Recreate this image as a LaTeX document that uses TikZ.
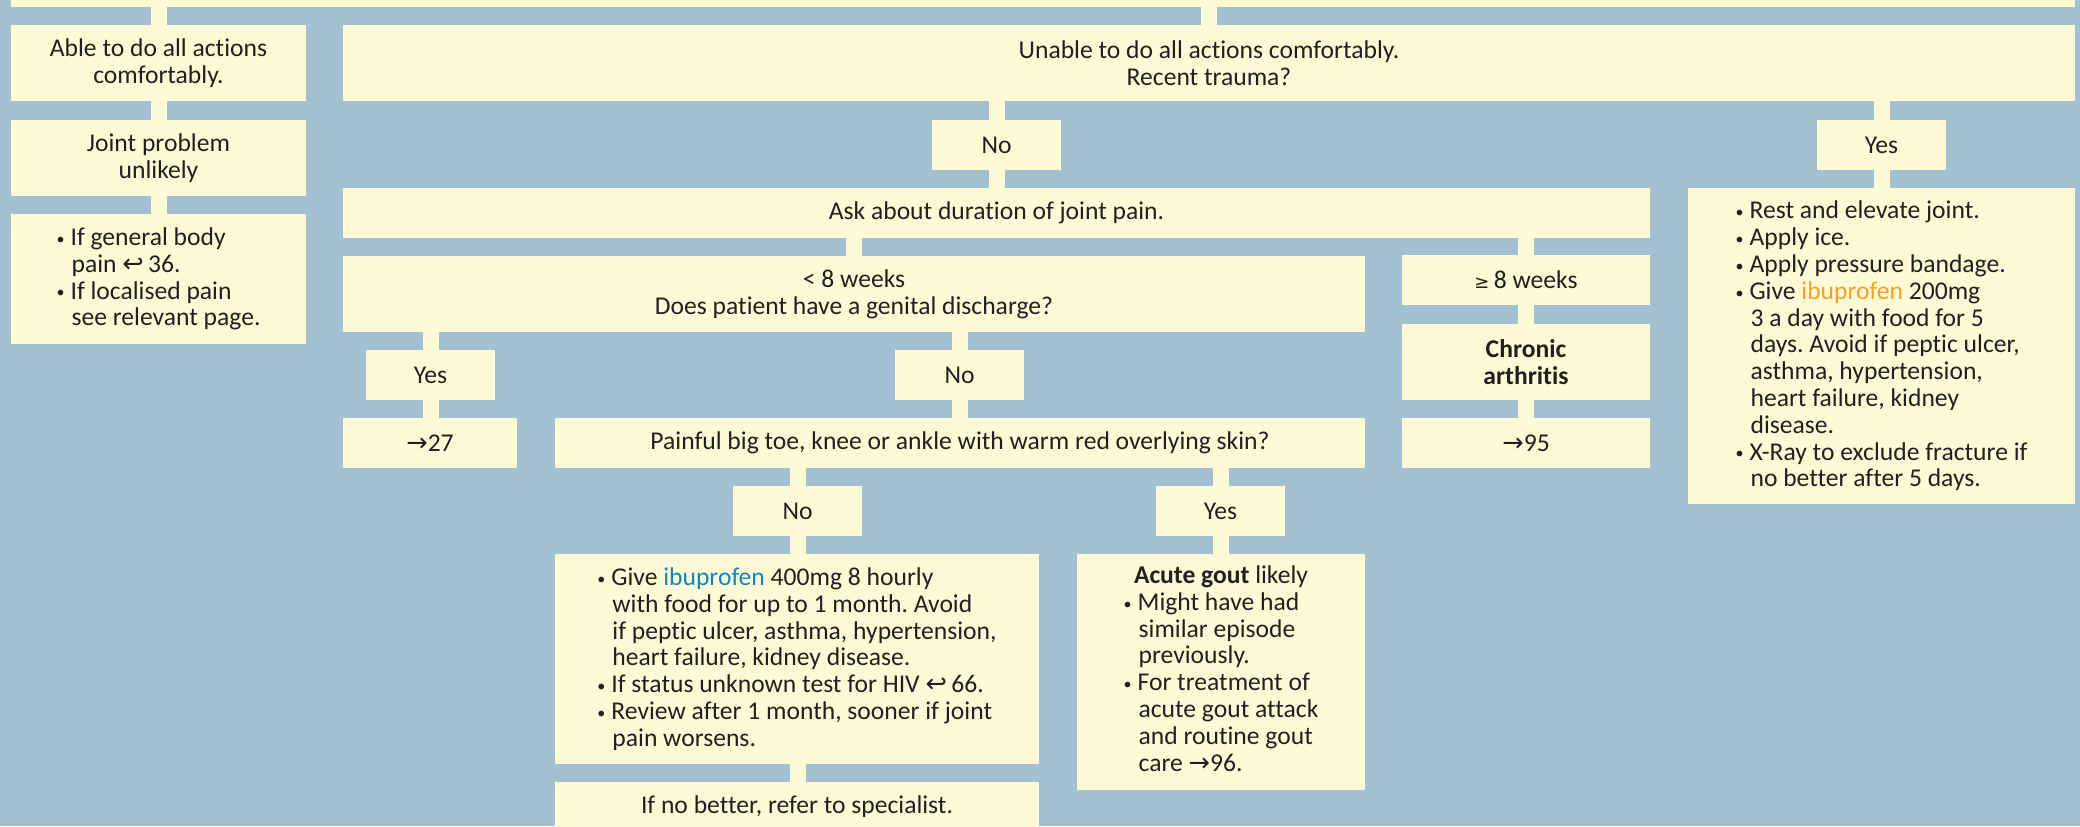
\documentclass[tikz,border=0pt]{standalone}
\usepackage{fontspec}
\setmainfont{Carlito}[Ligatures=NoCommon]
\newfontfamily\symf{DejaVu Sans}
\definecolor{bg}{RGB}{162,193,211}
\definecolor{boxc}{RGB}{255,250,214}
\definecolor{txt}{RGB}{35,31,32}
\definecolor{ibuor}{RGB}{245,161,35}
\definecolor{ibubl}{RGB}{16,134,190}
\newcommand\retarrow{{\symf ↩}}
\newcommand\fwd{{\symf →}}
\newcommand\bu{\makebox[7pt][l]{\raisebox{0.1ex}{\footnotesize\textbullet}}}
\newcommand\ind{\hspace*{7.5pt}}
\frenchspacing
\tikzset{
  box/.style={fill=boxc, inner sep=0pt, outer sep=0pt, text=txt,
    font=\fontsize{12.8}{13.4}\selectfont\frenchspacing, align=center},
  bulbox/.style={align=left},
  conn/.style={draw=boxc, line width=8pt},
}
\newcommand\mkbox[7][]{\node[box,minimum width={(#5-#3)*0.5pt},minimum height={(#6-#4)*0.5pt},#1] (#2) at ({(#3+#5)/2},{(#4+#6)/2+1}) {#7};}
\begin{document}
\begin{tikzpicture}[x=0.5pt,y=-0.5pt]
\useasboundingbox (0,0) rectangle (2080,826);
\fill[bg] (0,0) rectangle (2080,826);
\clip (0,0) rectangle (2080,826);
% boxes
\mkbox{top}{11}{-30}{2075}{6}{}
\mkbox{able}{11}{24}{306}{100}{Able to do all actions\\comfortably.}
\mkbox{joint}{11}{119}{306}{195}{Joint problem\\unlikely}
\mkbox[bulbox]{leftbul}{11}{213}{306}{343}{\bu If general body\\\ind pain \retarrow\,36.\\\bu If localised pain\\\ind see relevant page.}
\mkbox{unable}{343}{24}{2075}{100}{Unable to do all actions comfortably.\\Recent trauma?}
\mkbox{notr}{932}{119}{1061}{169}{No}
\mkbox{yestr}{1817}{119}{1946}{169}{Yes}
\mkbox{ask}{343}{187}{1650}{237}{Ask about duration of joint pain.}
\mkbox[bulbox]{rightbul}{1688}{187}{2075}{503}{\bu Rest and elevate joint.\\\bu Apply ice.\\\bu Apply pressure bandage.\\\bu Give \textcolor{ibuor}{ibuprofen} 200mg\\\ind 3 a day with food for 5\\\ind days. Avoid if peptic ulcer,\\\ind asthma, hypertension,\\\ind heart failure, kidney\\\ind disease.\\\bu X-Ray to exclude fracture if\\\ind no better after 5 days.}
\mkbox{lt8}{343}{255}{1365}{331}{< 8 weeks\\Does patient have a genital discharge?}
\mkbox{ge8}{1402}{254}{1650}{304}{{\symf\small ≥}\,8 weeks}
\mkbox{chronic}{1402}{323}{1650}{399}{\textbf{Chronic}\\\textbf{arthritis}}
\mkbox{p95}{1402}{417}{1650}{467}{\fwd 95}
\mkbox{yesgd}{366}{349}{495}{399}{Yes}
\mkbox{nogd}{895}{349}{1024}{399}{No}
\mkbox{p27}{343}{417}{517}{467}{\fwd 27}
\mkbox{painful}{555}{417}{1365}{467}{Painful big toe, knee or ankle with warm red overlying skin?}
\mkbox{nopf}{733}{485}{862}{535}{No}
\mkbox{yespf}{1156}{485}{1285}{535}{Yes}
\mkbox[bulbox]{ibu}{555}{553}{1039}{763}{\bu Give \textcolor{ibubl}{ibuprofen} 400mg 8 hourly\\\ind with food for up to 1 month. Avoid\\\ind if peptic ulcer, asthma, hypertension,\\\ind heart failure, kidney disease.\\\bu If status unknown test for HIV \retarrow\,66.\\\bu Review after 1 month, sooner if joint\\\ind pain worsens.}
\mkbox{gout}{1077}{553}{1365}{789}{\begin{tabular}{@{}l@{}}\multicolumn{1}{@{}c@{}}{\textbf{Acute gout} likely}\\\bu Might have had\\\ind similar episode\\\ind previously.\\\bu For treatment of\\\ind acute gout attack\\\ind and routine gout\\\ind care \fwd 96.\end{tabular}}
\mkbox{spec}{555}{781}{1039}{831}{If no better, refer to specialist.}
% connectors
\draw[conn] (able.north) -- (able.north |- top.south);
\draw[conn] (able.south) -- (joint.north);
\draw[conn] (joint.south) -- (leftbul.north -| joint.south);
\draw[conn] (unable.north) -- (unable.north |- top.south);
\draw[conn] (notr.north) -- (notr.north |- unable.south);
\draw[conn] (notr.south) -- (notr.south |- ask.north);
\draw[conn] (yestr.north) -- (yestr.north |- unable.south);
\draw[conn] (yestr.south) -- (yestr.south |- rightbul.north);
\draw[conn] (lt8.north) -- (lt8.north |- ask.south);
\draw[conn] (ge8.north) -- (ge8.north |- ask.south);
\draw[conn] (ge8.south) -- (chronic.north);
\draw[conn] (chronic.south) -- (p95.north);
\draw[conn] (yesgd.north) -- (yesgd.north |- lt8.south);
\draw[conn] (yesgd.south) -- (yesgd.south |- p27.north);
\draw[conn] (nogd.north) -- (nogd.north |- lt8.south);
\draw[conn] (nogd.south) -- (nogd.south |- painful.north);
\draw[conn] (nopf.north) -- (nopf.north |- painful.south);
\draw[conn] (nopf.south) -- (nopf.south |- ibu.north);
\draw[conn] (yespf.north) -- (yespf.north |- painful.south);
\draw[conn] (yespf.south) -- (yespf.south |- gout.north);
\draw[conn] (ibu.south -| nopf.south) -- (spec.north -| nopf.south);
\end{tikzpicture}
\end{document}
